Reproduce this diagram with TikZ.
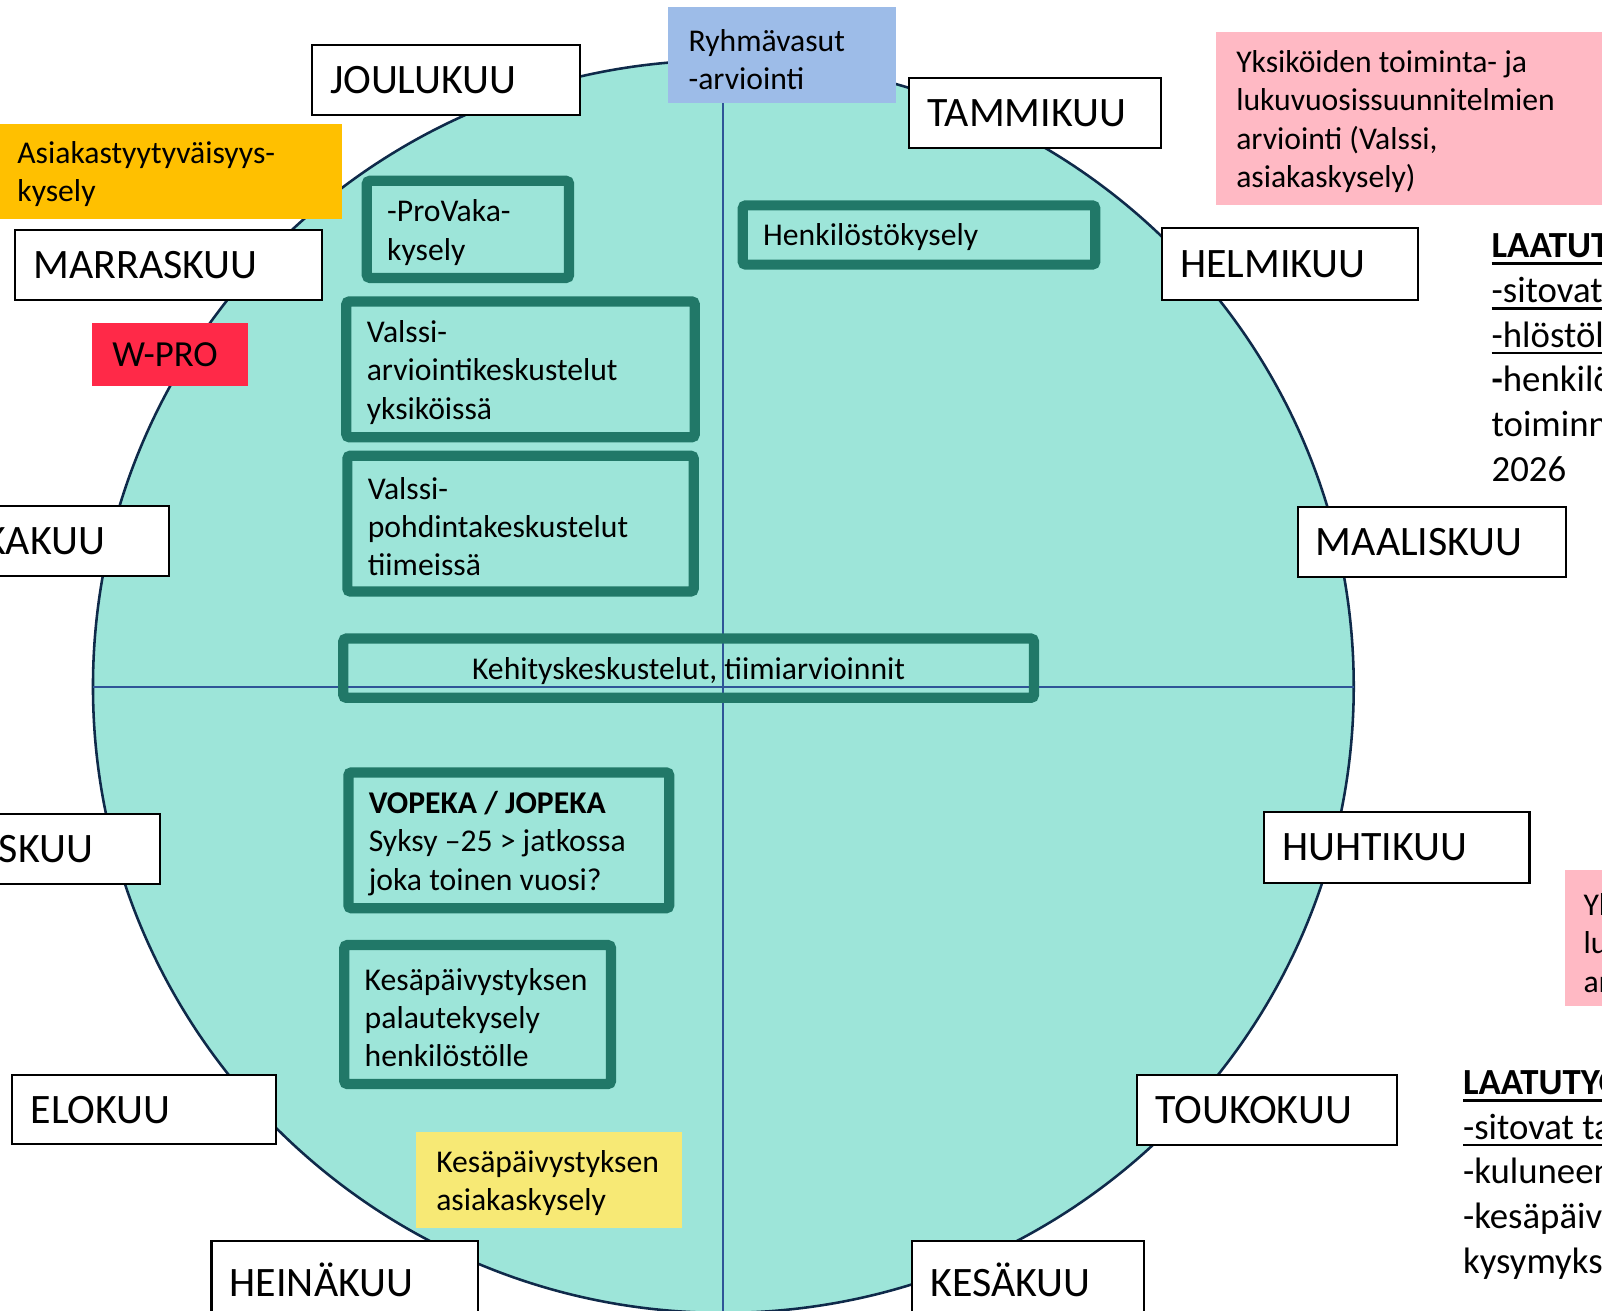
\documentclass[tikz,border=0pt]{standalone}
\usepackage{fontspec}
\setmainfont{Carlito}
\usetikzlibrary{positioning}
\definecolor{wheelfill}{HTML}{9DE5D9}
\definecolor{wheeledge}{HTML}{0F2A4A}
\definecolor{axisblue}{HTML}{2F5597}
\definecolor{framegreen}{HTML}{217868}
\definecolor{vasublue}{HTML}{9DBCE8}
\definecolor{planpink}{HTML}{FFB9C4}
\definecolor{surveyorange}{HTML}{FFC000}
\definecolor{wprored}{HTML}{FF2948}
\definecolor{summeryellow}{HTML}{F7E975}
\newcommand{\ulin}[1]{\setbox0\hbox{#1}\rlap{\rule[-7pt]{\wd0}{2.5pt}}\box0}
\newcommand{\nodedrop}[1]{\par\vspace{-#1pt}}

\begin{document}
\begin{tikzpicture}[x=1pt, y=-1pt,
  lower/.style = {execute at end node={\nodedrop{#1}}},
  month/.style = {draw, line width=2, fill=white, outer sep=0, anchor=north west, align=flush left,
    inner xsep=18, inner ysep=0, minimum height=69, lower=10, font=\fontsize{41}{49}\selectfont},
  frame/.style = {draw=framegreen, line width=10, rounded corners=3, outer sep=0, anchor=north west,
    align=flush left, inner xsep=20, inner ysep=0, lower=6, font=\fontsize{31}{37.5}\selectfont},
  note/.style = {outer sep=0, anchor=north west, align=flush left, inner xsep=20, inner ysep=0,
    lower=6, font=\fontsize{31}{37.5}\selectfont},
  side/.style = {inner sep=0, outer sep=0, anchor=north west, align=left,
    font=\fontsize{36}{43.7}\selectfont}]
  \useasboundingbox (0,0) rectangle (1568,1283);
  \clip (0,0) rectangle (1568,1283);
  % Wheel
  \draw[fill=wheelfill, draw=wheeledge, line width=2.5] (708,672) ellipse [x radius=617, y radius=613];
  \coordinate (top) at (708,59);
  \coordinate (bottom) at (708,1290);
  \coordinate (left) at (91,672);
  \coordinate (right) at (1325,672);
  \draw[axisblue, line width=2] (top) -- (bottom);
  \draw[axisblue, line width=2] (left) -- (right);
  % Coloured notes
  \node[note, fill=vasublue, text width=183, minimum height=94, lower=3] (vasu) at (654,7) {Ryhmävasut\\-arviointi};
  \node[note, fill=planpink, text width=380, minimum height=170] (plan) at (1190,31)
    {Yksiköiden toiminta- ja\\lukuvuosissuunnitelmien\\arviointi (Valssi,\\asiakaskysely)};
  \node[note, fill=planpink, text width=380, minimum height=133, inner xsep=18, lower=3] (plan2) at (1532,852)
    {Yksiköiden toiminta- ja\\lukuvuosissuunnitelmien\\arviointi};
  \node[note, fill=surveyorange, text width=298, minimum height=93] (asiakas) at (-3,121)
    {Asiakastyytyväisyys-\\kysely};
  \node[note, fill=wprored, text width=113, minimum height=62, font=\fontsize{36}{43}\selectfont] (wpro) at (90,316) {W-PRO};
  \node[note, fill=summeryellow, text width=221, minimum height=94] (kesaasiakas) at (407,1108)
    {Kesäpäivystyksen\\asiakaskysely};
  % Months
  \node[month, text width=227] (jou) at (305,44) {JOULUKUU};
  \node[month, text width=210] (tam) at (890,76) {TAMMIKUU};
  \node[month, text width=215, minimum height=71] (hel) at (1137,223) {HELMIKUU};
  \node[month, text width=227] (maa) at (1270,496) {MAALISKUU};
  \node[month, text width=224] (huh) at (1237,795) {HUHTIKUU};
  \node[month, text width=218] (tou) at (1113,1052) {TOUKOKUU};
  \node[month, text width=191, minimum height=75] (kes) at (893,1215) {KESÄKUU};
  \node[month, text width=225, minimum height=75] (hei) at (207,1215) {HEINÄKUU};
  \node[month, text width=222, minimum height=68] (elo) at (12,1052) {ELOKUU};
  \node[month, text width=198, minimum height=68] (syy) at (-77,797) {SYYSKUU};
  \node[month, text width=206] (lok) at (-77,495) {LOKAKUU};
  \node[month, text width=264] (mar) at (15,225) {MARRASKUU};
  % Frames
  \node[frame, text width=158, minimum height=95] (provaka) at (359,177) {-ProVaka-\\kysely};
  \node[frame, text width=305, minimum height=58] (henk) at (727,201) {Henkilöstökysely};
  \node[frame, text width=301, minimum height=133] (valssi1) at (339,295)
    {Valssi-\\arviointikeskustelut\\yksiköissä};
  \node[frame, text width=299, minimum height=133] (valssi2) at (340,446)
    {Valssi-\\pohdintakeskustelut\\tiimeissä};
  \node[frame, text width=636, minimum height=58, align=flush center, lower=16] (kehitys) at (336,625)
    {Kehityskeskustelut, tiimiarvioinnit};
  \node[frame, text width=274, minimum height=133] (vopeka) at (341,756)
    {\textbf{VOPEKA / JOPEKA}\\Syksy –25 > jatkossa\\joka toinen vuosi?};
  \node[frame, text width=221, minimum height=136, lower=0] (kesapalaute) at (337,925)
    {Kesäpäivystyksen\\palautekysely\\henkilöstölle};
  % Side texts
  \node[side] (laatu1) at (1460,223)
    {\ulin{\textbf{LAATUTYÖ}}\\\ulin{-sitovat tavoitteet}\\\ulin{-hlöstöllä}\\\textbf{-}henkilöstön\\toiminnan\\2026};
  \node[side] (laatu2) at (1432,1042)
    {\ulin{\textbf{LAATUTYÖ}}\\\ulin{-sitovat tavoitteet}\\-kuluneen\\-kesäpäivystyksen\\kysymykset};
\end{tikzpicture}
\end{document}
